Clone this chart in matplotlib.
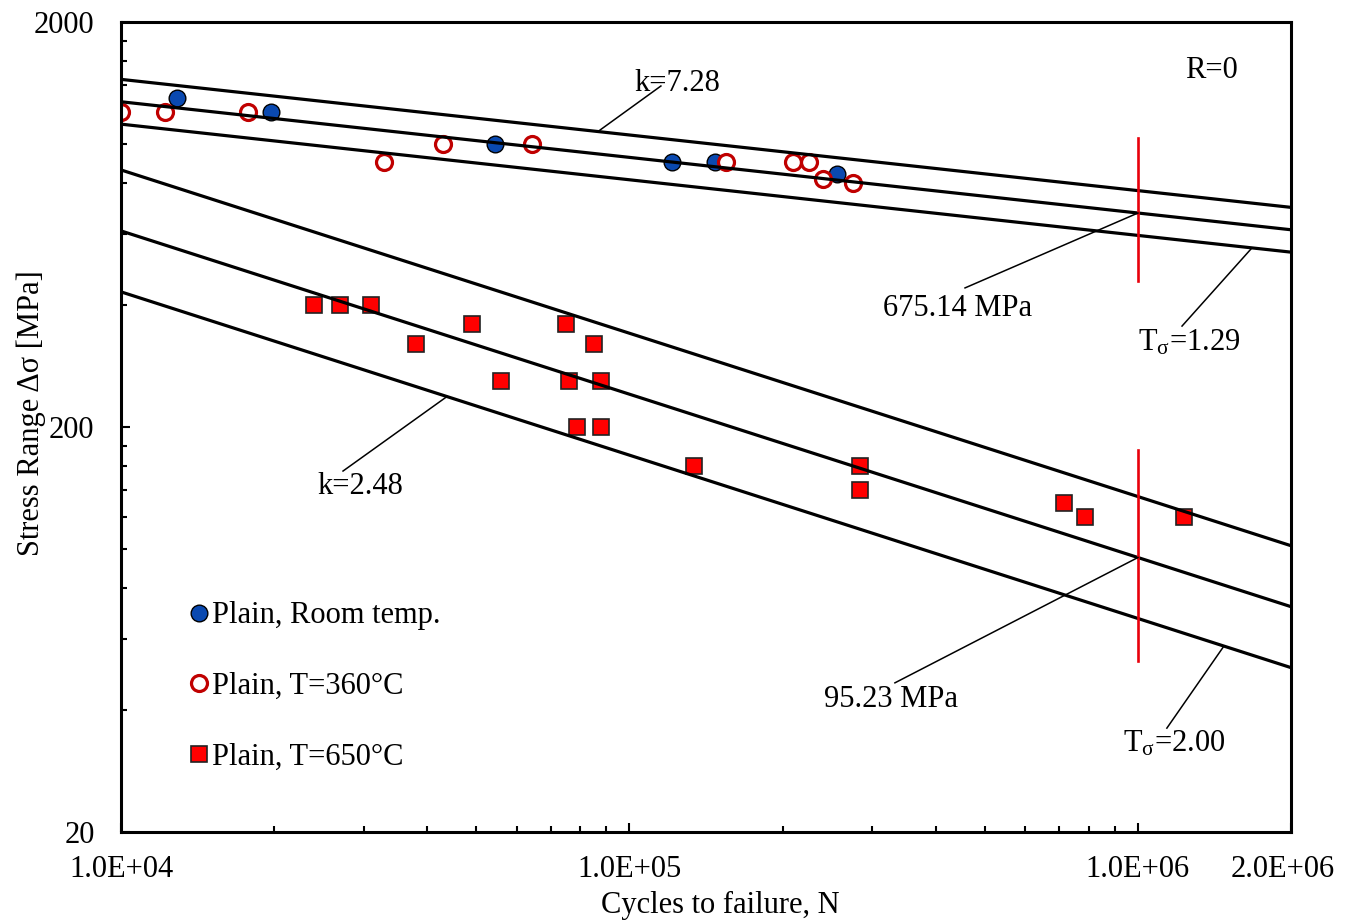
import numpy as np
import matplotlib
matplotlib.use("Agg")
import matplotlib.pyplot as plt
from matplotlib.ticker import FixedLocator, FixedFormatter, NullFormatter
import matplotlib.transforms as mtransforms

# ---------------- data ----------------
rt_N = [1.29e4, 1.97e4, 5.45e4, 1.21e5, 1.47e5, 2.56e5]
rt_S = [1300, 1200, 1000, 900, 900, 845]

t360_N = [1.0e4, 1.22e4, 1.78e4, 3.29e4, 4.30e4, 6.43e4, 1.55e5, 2.10e5, 2.25e5, 2.40e5, 2.75e5]
t360_S = [1200, 1200, 1200, 900, 1000, 1000, 900, 900, 900, 820, 800]

t650_N = [2.40e4, 2.70e4, 3.10e4, 3.80e4, 4.90e4, 5.60e4, 7.51e4, 7.59e4, 7.89e4,
          8.52e4, 8.80e4, 8.80e4, 1.34e5, 2.84e5, 2.84e5, 7.15e5, 7.87e5, 1.23e6]
t650_S = [400, 400, 400, 320, 360, 260, 360, 260, 200,
          320, 260, 200, 160, 160, 140, 130, 120, 120]

# S-N fit parameters (slope k, stress range at N_ref, scatter T)
sn_k = [7.28, 2.48]
sn_S_ref = [675.14, 95.23]
sn_T = [1.29, 2.00]
N_ref = 1.0e6
sn_N_range = [1.0e4, 2.0e6]

# red vertical marks at N_ref (stress span)
red_span = [[1035, 460], [175, 53]]

series_labels = ["Plain, Room temp.", "Plain, T=360\u00b0C", "Plain, T=650\u00b0C"]
x_ticks = [1e4, 1e5, 1e6, 2e6]
x_tick_labels = ["1.0E+04", "1.0E+05", "1.0E+06", "2.0E+06"]
y_ticks = [20, 200, 2000]
y_tick_labels = ["20", "200", "2000"]
y_minor = [40, 60, 80, 100, 120, 140, 160, 180, 400, 600, 800, 1000, 1200, 1400, 1600, 1800]
x_minor = [2e4, 3e4, 4e4, 5e4, 6e4, 7e4, 8e4, 9e4, 2e5, 3e5, 4e5, 5e5, 6e5, 7e5, 8e5, 9e5]

# ---------------- style ----------------
plt.rcParams['font.family'] = ['Liberation Serif', 'DejaVu Serif']
plt.rcParams['font.size'] = 22
plt.rcParams['mathtext.fontset'] = 'custom'
plt.rcParams['mathtext.rm'] = 'Liberation Serif'
plt.rcParams['mathtext.it'] = 'Liberation Serif:italic'

fig = plt.figure(figsize=(13.57, 9.23), dpi=100)
ax = fig.add_axes([121/1357, 1 - 832/923, 1170/1357, 810/923])
ax.set_xscale('log')
ax.set_yscale('log')
ax.set_xlim(1e4, 2e6)
ax.set_ylim(20, 2000)

# data markers
h1, = ax.plot(rt_N, rt_S, 'o', ms=12, mfc='#0A49B0', mec='black', mew=1.0,
              ls='none', zorder=2, label=series_labels[0])
h2, = ax.plot(t360_N, t360_S, 'o', ms=11.5, mfc='white', mec='#C00000', mew=2.3,
              ls='none', zorder=2.1, label=series_labels[1])
h3, = ax.plot(t650_N, t650_S, 's', ms=12, mfc='#FF0000', mec='#222222', mew=1.2,
              ls='none', zorder=2.2, label=series_labels[2])

# S-N lines
N_line = np.array(sn_N_range)
for k, S0, T in zip(sn_k, sn_S_ref, sn_T):
    for f in (np.sqrt(T), 1.0, 1.0 / np.sqrt(T)):
        S_line = S0 * f * (N_line / N_ref) ** (-1.0 / k)
        ax.plot(N_line, S_line, color='black', lw=2.3, zorder=3, solid_capstyle='butt')

# red vertical lines
for span in red_span:
    ax.plot([N_ref, N_ref], span, color='#E8000B', lw=1.9, zorder=3.5)

def sn_value(g, N, f=1.0):
    return sn_S_ref[g] * f * (N / N_ref) ** (-1.0 / sn_k[g])

# annotations: (text, text pos, leader start on curve, leader end)
lw_lead = 1.1
ann = [
    ("k=7.28", (1.24e5, 1431), (8.67e4, sn_value(0, 8.67e4, np.sqrt(sn_T[0]))), (1.153e5, 1390)),
    ("675.14 MPa", (4.41e5, 400), (N_ref, sn_S_ref[0]), (4.57e5, 441)),
    ("T$_{\\mathrm{\\sigma}}$=1.29", (1.26e6, 328), (1.676e6, sn_value(0, 1.676e6, 1 / np.sqrt(sn_T[0]))), (1.221e6, 355)),
    ("k=2.48", (2.95e4, 144.7), (4.376e4, sn_value(1, 4.376e4, 1 / np.sqrt(sn_T[1]))), (2.733e4, 155.7)),
    ("95.23 MPa", (3.27e5, 43.1), (N_ref, sn_S_ref[1]), (3.327e5, 46.7)),
    ("T$_{\\mathrm{\\sigma}}$=2.00", (1.18e6, 33.6), (1.476e6, sn_value(1, 1.476e6, 1 / np.sqrt(sn_T[1]))), (1.14e6, 36.1)),
]
text_tr = ax.transData + mtransforms.ScaledTranslation(0, -3 / 100, fig.dpi_scale_trans)
for txt, tpos, p0, p1 in ann:
    ax.plot([p0[0], p1[0]], [p0[1], p1[1]], color='black', lw=lw_lead, zorder=4)
    ax.text(tpos[0], tpos[1], txt, ha='center', va='center', fontsize=22, zorder=5,
            transform=text_tr)

ax.text(1.392e6, 1540, "R=0", ha='center', va='center', fontsize=22, transform=text_tr)

# axes / ticks
ax.xaxis.set_major_locator(FixedLocator(x_ticks))
ax.xaxis.set_major_formatter(FixedFormatter(x_tick_labels))
ax.xaxis.set_minor_locator(FixedLocator(x_minor))
ax.xaxis.set_minor_formatter(NullFormatter())
ax.yaxis.set_major_locator(FixedLocator(y_ticks))
ax.yaxis.set_major_formatter(FixedFormatter(y_tick_labels))
ax.yaxis.set_minor_locator(FixedLocator(y_minor))
ax.yaxis.set_minor_formatter(NullFormatter())

ax.tick_params(which='major', direction='in', length=6.5, width=1.5, labelsize=22)
ax.tick_params(which='minor', direction='in', length=4.3, width=1.5)
ax.tick_params(axis='x', which='major', pad=16.5)
ax.tick_params(axis='y', which='major', pad=19)
for sp in ax.spines.values():
    sp.set_linewidth(2.2)

# shift last x tick label slightly left
offset = mtransforms.ScaledTranslation(-8 / 100, 0, fig.dpi_scale_trans)
xlabels = ax.get_xticklabels()
xlabels[-1].set_transform(xlabels[-1].get_transform() + offset)

ax.set_xlabel("Cycles to failure, N", fontsize=22)
ax.xaxis.set_label_coords(0.512, -0.073)
ax.set_ylabel("Stress Range \u0394\u03c3 [MPa]", fontsize=22)
ax.yaxis.set_label_coords(-0.064, 0.517)

leg = ax.legend(handles=[h1, h2, h3], loc='upper left', bbox_to_anchor=(0.048, 0.30),
                frameon=False, handlelength=0.6, handletextpad=0.15, labelspacing=1.36,
                borderaxespad=0, fontsize=22)

fig.savefig("out.png", dpi=100)
